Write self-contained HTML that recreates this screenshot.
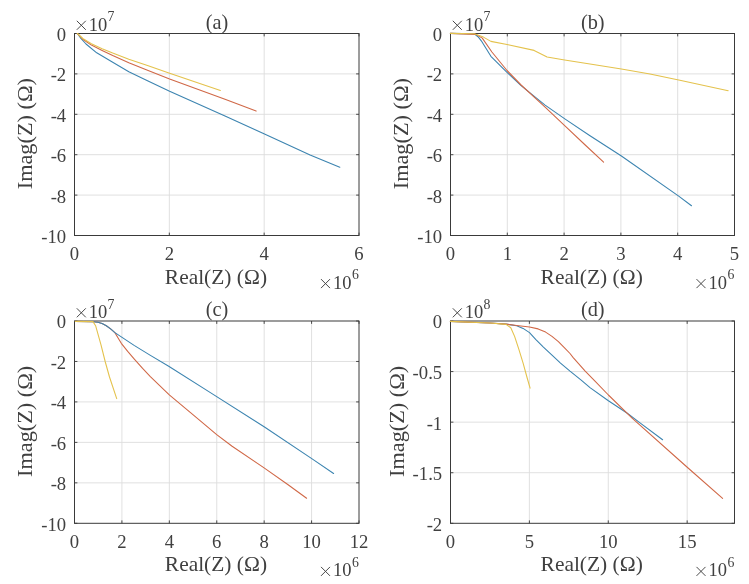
<!DOCTYPE html>
<html><head><meta charset="utf-8"><title>Nyquist plots</title>
<style>html,body{margin:0;padding:0;background:#fff;}body{width:749px;height:584px;position:relative;overflow:hidden;font-family:"Liberation Serif",serif;}</style>
</head><body>
<svg width="749" height="584" viewBox="0 0 749 584" style="display:block;position:absolute;left:0;top:0">
<rect width="749" height="584" fill="#fff"/>
<g font-family="'Liberation Serif', serif" fill="#404040" opacity="0.999">
<path d="M169.33 33.5V235.5M264.17 33.5V235.5M74.5 73.90H359.0M74.5 114.30H359.0M74.5 154.70H359.0M74.5 195.10H359.0" stroke="#dcdcdc" stroke-width="0.9" fill="none"/>
<path d="M74.50 235.5v-2.9M74.50 33.5v2.9M169.33 235.5v-2.9M169.33 33.5v2.9M264.17 235.5v-2.9M264.17 33.5v2.9M359.00 235.5v-2.9M359.00 33.5v2.9M74.5 33.50h2.9M359.0 33.50h-2.9M74.5 73.90h2.9M359.0 73.90h-2.9M74.5 114.30h2.9M359.0 114.30h-2.9M74.5 154.70h2.9M359.0 154.70h-2.9M74.5 195.10h2.9M359.0 195.10h-2.9M74.5 235.50h2.9M359.0 235.50h-2.9" stroke="#3a3a3a" stroke-width="0.9" fill="none"/>
<rect x="74.5" y="33.5" width="284.50" height="202.00" fill="none" stroke="#3a3a3a" stroke-width="1"/>
<path d="M77.3 33.5 L78.0 34.2 L80.7 38.1 L86.0 44.0 L96.7 52.8 L112.7 62.2 L128.8 71.8 L147.5 80.7 L169.6 91.3 L225.0 115.9 L264.5 134.1 L310.1 155.1 L339.8 167.3" stroke="#3c84b0" stroke-width="1.08" fill="none" stroke-linejoin="round" stroke-linecap="round"/>
<path d="M77.3 33.5 L78.0 34.2 L82.8 39.2 L91.4 45.1 L102.1 50.4 L112.7 55.6 L128.8 62.7 L147.5 70.3 L169.6 79.0 L225.0 99.3 L256.1 111.1" stroke="#d06847" stroke-width="1.08" fill="none" stroke-linejoin="round" stroke-linecap="round"/>
<path d="M77.3 33.5 L78.0 34.0 L82.8 38.5 L91.4 43.8 L102.1 48.8 L112.7 53.1 L128.8 59.2 L147.5 65.4 L169.6 73.2 L220.4 90.4" stroke="#e4c24c" stroke-width="1.08" fill="none" stroke-linejoin="round" stroke-linecap="round"/>
<text transform="translate(74.50 260.20) scale(1.05 1)" font-size="17.8" text-anchor="middle">0</text>
<text transform="translate(169.33 260.20) scale(1.05 1)" font-size="17.8" text-anchor="middle">2</text>
<text transform="translate(264.17 260.20) scale(1.05 1)" font-size="17.8" text-anchor="middle">4</text>
<text transform="translate(359.00 260.20) scale(1.05 1)" font-size="17.8" text-anchor="middle">6</text>
<text transform="translate(66.20 40.90) scale(1.05 1)" font-size="17.8" text-anchor="end">0</text>
<text transform="translate(66.20 81.30) scale(1.05 1)" font-size="17.8" text-anchor="end">-2</text>
<text transform="translate(66.20 121.70) scale(1.05 1)" font-size="17.8" text-anchor="end">-4</text>
<text transform="translate(66.20 162.10) scale(1.05 1)" font-size="17.8" text-anchor="end">-6</text>
<text transform="translate(66.20 202.50) scale(1.05 1)" font-size="17.8" text-anchor="end">-8</text>
<text transform="translate(66.20 242.90) scale(1.05 1)" font-size="17.8" text-anchor="end">-10</text>
<path d="M76.80 20.80L85.80 29.80M76.80 29.80L85.80 20.80" stroke="#404040" stroke-width="0.95" fill="none"/>
<text transform="translate(88.70 30.80) scale(1.04 1)" font-size="17.8" text-anchor="start">10</text>
<text transform="translate(107.60 21.00) scale(1.0 1)" font-size="13.8" text-anchor="start">7</text>
<path d="M321.00 279.10L330.00 288.10M321.00 288.10L330.00 279.10" stroke="#404040" stroke-width="0.95" fill="none"/>
<text transform="translate(333.00 288.60) scale(1.04 1)" font-size="17.8" text-anchor="start">10</text>
<text transform="translate(352.10 278.80) scale(1.0 1)" font-size="13.8" text-anchor="start">6</text>
<text transform="translate(215.95 283.60) scale(1.057 1)" font-size="20.3" text-anchor="middle">Real(Z) (Ω)</text>
<text transform="translate(32.00 133.70) rotate(-90) scale(1.098 1)" font-size="20.3" text-anchor="middle">Imag(Z) (Ω)</text>
<text transform="translate(217.05 28.50) scale(1.0 1)" font-size="20.3" text-anchor="middle">(a)</text>
<path d="M507.30 33.5V235.5M564.10 33.5V235.5M620.90 33.5V235.5M677.70 33.5V235.5M450.5 73.90H734.5M450.5 114.30H734.5M450.5 154.70H734.5M450.5 195.10H734.5" stroke="#dcdcdc" stroke-width="0.9" fill="none"/>
<path d="M450.50 235.5v-2.9M450.50 33.5v2.9M507.30 235.5v-2.9M507.30 33.5v2.9M564.10 235.5v-2.9M564.10 33.5v2.9M620.90 235.5v-2.9M620.90 33.5v2.9M677.70 235.5v-2.9M677.70 33.5v2.9M734.50 235.5v-2.9M734.50 33.5v2.9M450.5 33.50h2.9M734.5 33.50h-2.9M450.5 73.90h2.9M734.5 73.90h-2.9M450.5 114.30h2.9M734.5 114.30h-2.9M450.5 154.70h2.9M734.5 154.70h-2.9M450.5 195.10h2.9M734.5 195.10h-2.9M450.5 235.50h2.9M734.5 235.50h-2.9" stroke="#3a3a3a" stroke-width="0.9" fill="none"/>
<rect x="450.5" y="33.5" width="284.00" height="202.00" fill="none" stroke="#3a3a3a" stroke-width="1"/>
<path d="M450.4 33.4 L474.3 33.9 L478.0 36.7 L481.3 40.8 L490.9 56.3 L496.2 61.7 L507.0 72.3 L521.1 85.7 L545.1 105.1 L565.2 119.1 L590.0 135.8 L621.4 156.0 L678.7 196.1 L691.5 205.7" stroke="#3c84b0" stroke-width="1.08" fill="none" stroke-linejoin="round" stroke-linecap="round"/>
<path d="M450.4 33.4 L476.0 34.4 L482.3 38.1 L491.9 52.0 L507.0 70.5 L521.1 85.0 L545.1 107.1 L565.2 126.1 L585.2 145.0 L603.6 162.1" stroke="#d06847" stroke-width="1.08" fill="none" stroke-linejoin="round" stroke-linecap="round"/>
<path d="M450.4 33.4 L474.3 33.8 L483.4 37.1 L490.9 41.4 L507.0 44.5 L534.1 50.4 L547.1 57.0 L564.6 60.0 L590.0 64.0 L621.4 69.0 L650.0 74.0 L678.7 80.0 L728.2 90.7" stroke="#e4c24c" stroke-width="1.08" fill="none" stroke-linejoin="round" stroke-linecap="round"/>
<text transform="translate(450.50 260.20) scale(1.05 1)" font-size="17.8" text-anchor="middle">0</text>
<text transform="translate(507.30 260.20) scale(1.05 1)" font-size="17.8" text-anchor="middle">1</text>
<text transform="translate(564.10 260.20) scale(1.05 1)" font-size="17.8" text-anchor="middle">2</text>
<text transform="translate(620.90 260.20) scale(1.05 1)" font-size="17.8" text-anchor="middle">3</text>
<text transform="translate(677.70 260.20) scale(1.05 1)" font-size="17.8" text-anchor="middle">4</text>
<text transform="translate(734.50 260.20) scale(1.05 1)" font-size="17.8" text-anchor="middle">5</text>
<text transform="translate(442.20 40.90) scale(1.05 1)" font-size="17.8" text-anchor="end">0</text>
<text transform="translate(442.20 81.30) scale(1.05 1)" font-size="17.8" text-anchor="end">-2</text>
<text transform="translate(442.20 121.70) scale(1.05 1)" font-size="17.8" text-anchor="end">-4</text>
<text transform="translate(442.20 162.10) scale(1.05 1)" font-size="17.8" text-anchor="end">-6</text>
<text transform="translate(442.20 202.50) scale(1.05 1)" font-size="17.8" text-anchor="end">-8</text>
<text transform="translate(442.20 242.90) scale(1.05 1)" font-size="17.8" text-anchor="end">-10</text>
<path d="M452.80 20.80L461.80 29.80M452.80 29.80L461.80 20.80" stroke="#404040" stroke-width="0.95" fill="none"/>
<text transform="translate(464.70 30.80) scale(1.04 1)" font-size="17.8" text-anchor="start">10</text>
<text transform="translate(483.60 21.00) scale(1.0 1)" font-size="13.8" text-anchor="start">7</text>
<path d="M696.50 279.10L705.50 288.10M696.50 288.10L705.50 279.10" stroke="#404040" stroke-width="0.95" fill="none"/>
<text transform="translate(708.50 288.60) scale(1.04 1)" font-size="17.8" text-anchor="start">10</text>
<text transform="translate(727.60 278.80) scale(1.0 1)" font-size="13.8" text-anchor="start">6</text>
<text transform="translate(591.70 283.60) scale(1.057 1)" font-size="20.3" text-anchor="middle">Real(Z) (Ω)</text>
<text transform="translate(408.00 133.70) rotate(-90) scale(1.098 1)" font-size="20.3" text-anchor="middle">Imag(Z) (Ω)</text>
<text transform="translate(592.80 28.50) scale(1.0 1)" font-size="20.3" text-anchor="middle">(b)</text>
<path d="M121.92 321.0V523.3M169.33 321.0V523.3M216.75 321.0V523.3M264.17 321.0V523.3M311.58 321.0V523.3M74.5 361.46H359.0M74.5 401.92H359.0M74.5 442.38H359.0M74.5 482.84H359.0" stroke="#dcdcdc" stroke-width="0.9" fill="none"/>
<path d="M74.50 523.3v-2.9M74.50 321.0v2.9M121.92 523.3v-2.9M121.92 321.0v2.9M169.33 523.3v-2.9M169.33 321.0v2.9M216.75 523.3v-2.9M216.75 321.0v2.9M264.17 523.3v-2.9M264.17 321.0v2.9M311.58 523.3v-2.9M311.58 321.0v2.9M359.00 523.3v-2.9M359.00 321.0v2.9M74.5 321.00h2.9M359.0 321.00h-2.9M74.5 361.46h2.9M359.0 361.46h-2.9M74.5 401.92h2.9M359.0 401.92h-2.9M74.5 442.38h2.9M359.0 442.38h-2.9M74.5 482.84h2.9M359.0 482.84h-2.9M74.5 523.30h2.9M359.0 523.30h-2.9" stroke="#3a3a3a" stroke-width="0.9" fill="none"/>
<rect x="74.5" y="321.0" width="284.50" height="202.30" fill="none" stroke="#3a3a3a" stroke-width="1"/>
<path d="M75.4 321.4 L93.0 321.7 L97.8 322.3 L102.1 323.5 L106.3 325.7 L110.6 328.9 L114.9 332.6 L118.1 338.0 L121.3 343.3 L127.7 351.3 L134.1 358.8 L142.6 368.4 L150.1 376.3 L169.3 394.9 L194.1 415.7 L216.7 434.6 L232.1 446.3 L264.1 467.9 L288.1 484.7 L306.6 498.3" stroke="#d06847" stroke-width="1.08" fill="none" stroke-linejoin="round" stroke-linecap="round"/>
<path d="M75.4 321.4 L93.0 321.7 L97.8 322.3 L102.1 323.5 L106.3 325.7 L110.6 328.9 L114.9 332.6 L121.3 336.9 L134.1 345.4 L150.0 355.1 L168.7 366.3 L210.0 392.4 L264.5 427.0 L312.5 459.1 L333.6 473.5" stroke="#3c84b0" stroke-width="1.08" fill="none" stroke-linejoin="round" stroke-linecap="round"/>
<path d="M75.4 321.4 L93.0 321.6 L95.6 325.7 L101.0 344.9 L105.3 362.0 L109.5 377.0 L116.7 398.6" stroke="#e4c24c" stroke-width="1.08" fill="none" stroke-linejoin="round" stroke-linecap="round"/>
<text transform="translate(74.50 548.00) scale(1.05 1)" font-size="17.8" text-anchor="middle">0</text>
<text transform="translate(121.92 548.00) scale(1.05 1)" font-size="17.8" text-anchor="middle">2</text>
<text transform="translate(169.33 548.00) scale(1.05 1)" font-size="17.8" text-anchor="middle">4</text>
<text transform="translate(216.75 548.00) scale(1.05 1)" font-size="17.8" text-anchor="middle">6</text>
<text transform="translate(264.17 548.00) scale(1.05 1)" font-size="17.8" text-anchor="middle">8</text>
<text transform="translate(311.58 548.00) scale(1.05 1)" font-size="17.8" text-anchor="middle">10</text>
<text transform="translate(359.00 548.00) scale(1.05 1)" font-size="17.8" text-anchor="middle">12</text>
<text transform="translate(66.20 328.40) scale(1.05 1)" font-size="17.8" text-anchor="end">0</text>
<text transform="translate(66.20 368.86) scale(1.05 1)" font-size="17.8" text-anchor="end">-2</text>
<text transform="translate(66.20 409.32) scale(1.05 1)" font-size="17.8" text-anchor="end">-4</text>
<text transform="translate(66.20 449.78) scale(1.05 1)" font-size="17.8" text-anchor="end">-6</text>
<text transform="translate(66.20 490.24) scale(1.05 1)" font-size="17.8" text-anchor="end">-8</text>
<text transform="translate(66.20 530.70) scale(1.05 1)" font-size="17.8" text-anchor="end">-10</text>
<path d="M76.80 308.30L85.80 317.30M76.80 317.30L85.80 308.30" stroke="#404040" stroke-width="0.95" fill="none"/>
<text transform="translate(88.70 318.30) scale(1.04 1)" font-size="17.8" text-anchor="start">10</text>
<text transform="translate(107.60 308.50) scale(1.0 1)" font-size="13.8" text-anchor="start">7</text>
<path d="M321.00 566.90L330.00 575.90M321.00 575.90L330.00 566.90" stroke="#404040" stroke-width="0.95" fill="none"/>
<text transform="translate(333.00 576.40) scale(1.04 1)" font-size="17.8" text-anchor="start">10</text>
<text transform="translate(352.10 566.60) scale(1.0 1)" font-size="13.8" text-anchor="start">6</text>
<text transform="translate(215.95 571.40) scale(1.057 1)" font-size="20.3" text-anchor="middle">Real(Z) (Ω)</text>
<text transform="translate(32.00 421.35) rotate(-90) scale(1.098 1)" font-size="20.3" text-anchor="middle">Imag(Z) (Ω)</text>
<text transform="translate(217.05 316.00) scale(1.0 1)" font-size="20.3" text-anchor="middle">(c)</text>
<path d="M529.39 321.0V523.3M608.28 321.0V523.3M687.17 321.0V523.3M450.5 371.57H734.5M450.5 422.15H734.5M450.5 472.72H734.5" stroke="#dcdcdc" stroke-width="0.9" fill="none"/>
<path d="M450.50 523.3v-2.9M450.50 321.0v2.9M529.39 523.3v-2.9M529.39 321.0v2.9M608.28 523.3v-2.9M608.28 321.0v2.9M687.17 523.3v-2.9M687.17 321.0v2.9M450.5 321.00h2.9M734.5 321.00h-2.9M450.5 371.57h2.9M734.5 371.57h-2.9M450.5 422.15h2.9M734.5 422.15h-2.9M450.5 472.72h2.9M734.5 472.72h-2.9M450.5 523.30h2.9M734.5 523.30h-2.9" stroke="#3a3a3a" stroke-width="0.9" fill="none"/>
<rect x="450.5" y="321.0" width="284.00" height="202.30" fill="none" stroke="#3a3a3a" stroke-width="1"/>
<path d="M450.4 321.4 L490.0 323.0 L506.0 324.1 L516.7 325.7 L523.1 328.4 L529.5 332.6 L535.9 339.6 L543.4 347.1 L552.0 355.1 L560.5 363.1 L570.0 371.1 L581.2 380.1 L590.0 387.6 L608.4 400.7 L627.3 413.3 L640.0 422.9 L662.6 439.7" stroke="#3c84b0" stroke-width="1.08" fill="none" stroke-linejoin="round" stroke-linecap="round"/>
<path d="M450.4 321.4 L490.0 323.0 L506.0 324.1 L516.7 325.5 L529.5 327.0 L538.1 328.9 L545.6 332.1 L552.0 336.4 L558.4 341.7 L564.8 348.1 L570.0 353.5 L573.2 357.6 L585.2 371.1 L595.0 381.1 L608.4 395.0 L632.1 418.1 L687.5 467.5 L722.6 498.4" stroke="#d06847" stroke-width="1.08" fill="none" stroke-linejoin="round" stroke-linecap="round"/>
<path d="M450.4 321.4 L490.0 323.0 L506.0 324.4 L510.8 327.8 L514.6 336.4 L518.8 349.2 L523.1 363.1 L526.9 377.0 L530.1 388.1" stroke="#e4c24c" stroke-width="1.08" fill="none" stroke-linejoin="round" stroke-linecap="round"/>
<text transform="translate(450.50 548.00) scale(1.05 1)" font-size="17.8" text-anchor="middle">0</text>
<text transform="translate(529.39 548.00) scale(1.05 1)" font-size="17.8" text-anchor="middle">5</text>
<text transform="translate(608.28 548.00) scale(1.05 1)" font-size="17.8" text-anchor="middle">10</text>
<text transform="translate(687.17 548.00) scale(1.05 1)" font-size="17.8" text-anchor="middle">15</text>
<text transform="translate(442.20 328.40) scale(1.05 1)" font-size="17.8" text-anchor="end">0</text>
<text transform="translate(442.20 378.97) scale(1.05 1)" font-size="17.8" text-anchor="end">-0.5</text>
<text transform="translate(442.20 429.55) scale(1.05 1)" font-size="17.8" text-anchor="end">-1</text>
<text transform="translate(442.20 480.12) scale(1.05 1)" font-size="17.8" text-anchor="end">-1.5</text>
<text transform="translate(442.20 530.70) scale(1.05 1)" font-size="17.8" text-anchor="end">-2</text>
<path d="M452.80 308.30L461.80 317.30M452.80 317.30L461.80 308.30" stroke="#404040" stroke-width="0.95" fill="none"/>
<text transform="translate(464.70 318.30) scale(1.04 1)" font-size="17.8" text-anchor="start">10</text>
<text transform="translate(483.60 308.50) scale(1.0 1)" font-size="13.8" text-anchor="start">8</text>
<path d="M696.50 566.90L705.50 575.90M696.50 575.90L705.50 566.90" stroke="#404040" stroke-width="0.95" fill="none"/>
<text transform="translate(708.50 576.40) scale(1.04 1)" font-size="17.8" text-anchor="start">10</text>
<text transform="translate(727.60 566.60) scale(1.0 1)" font-size="13.8" text-anchor="start">6</text>
<text transform="translate(591.70 571.40) scale(1.057 1)" font-size="20.3" text-anchor="middle">Real(Z) (Ω)</text>
<text transform="translate(404.40 421.35) rotate(-90) scale(1.098 1)" font-size="20.3" text-anchor="middle">Imag(Z) (Ω)</text>
<text transform="translate(592.80 316.00) scale(1.0 1)" font-size="20.3" text-anchor="middle">(d)</text>
</g></svg>
</body></html>
